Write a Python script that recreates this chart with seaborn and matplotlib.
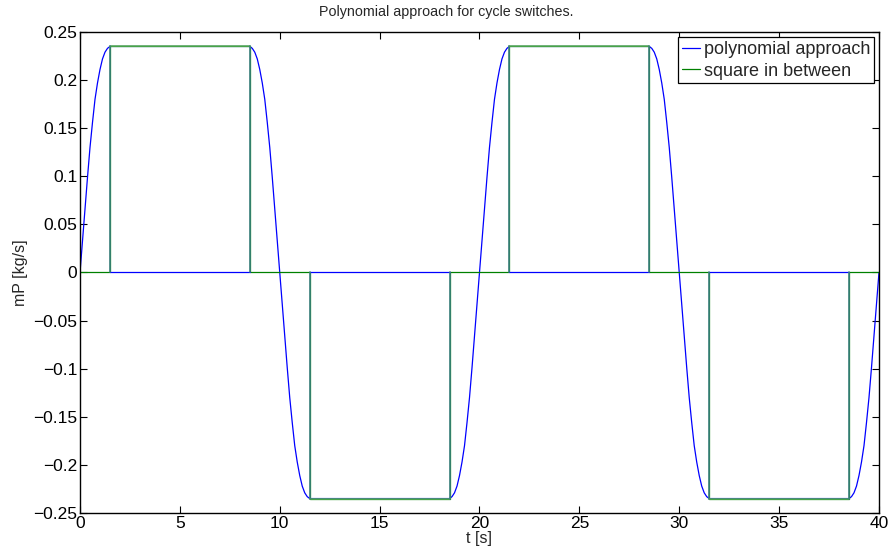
import numpy as np
import pandas as pd
import matplotlib
matplotlib.use("Agg")
import matplotlib.pyplot as plt
import seaborn as sns

# Switch instants and direction of each switch (+1 up, -1 down)
SWITCH_T = [0.0, 10.0, 20.0, 30.0, 40.0]
SWITCH_DIR = [1, -1, 1, -1, 1]

# Polynomial ramp: time after the switch centre [s] and mass flow [kg/s]
RAMP_DT = [0.0, 0.125, 0.25, 0.375, 0.5, 0.625, 0.75, 0.875, 1.0, 1.125, 1.25, 1.375, 1.5]
RAMP_MP = [0.0, 0.033, 0.066, 0.099, 0.130, 0.156, 0.180, 0.197, 0.211, 0.222, 0.229, 0.233, 0.235]

# Square signal in between the ramps
SQUARE_T = [0.0, 1.5, 8.5, 11.5, 18.5, 21.5, 28.5, 31.5, 38.5, 40.0]
SQUARE_MP = [0.0, 0.235, 0.0, -0.235, 0.0, 0.235, 0.0, -0.235, 0.0, 0.0]

X_TICKS = [0, 5, 10, 15, 20, 25, 30, 35, 40]
Y_TICKS = [0.25, 0.2, 0.15, 0.1, 0.05, 0, -0.05, -0.1, -0.15, -0.2, -0.25]
Y_TICK_LABELS = ["0.25", "0.2", "0.15", "0.1", "0.05", "0",
                 "\u22120.05", "\u22120.1", "\u22120.15", "\u22120.2", "\u22120.25"]

# Assemble the polynomial curve around every switch
t_poly, mp_poly = [], []
dt = np.array(RAMP_DT)
mp = np.array(RAMP_MP)
for i, (tc, sgn) in enumerate(zip(SWITCH_T, SWITCH_DIR)):
    if i > 0:  # ramp leading into the switch
        t_poly.extend((tc - dt[::-1]).tolist())
        mp_poly.extend((-sgn * mp[::-1]).tolist())
    if i < len(SWITCH_T) - 1:  # ramp leaving the switch
        start = 1 if i > 0 else 0
        t_poly.extend((tc + dt[start:]).tolist())
        mp_poly.extend((sgn * mp[start:]).tolist())

poly_df = pd.DataFrame({"t": t_poly, "mP": mp_poly})
square_df = pd.DataFrame({"t": SQUARE_T, "mP": SQUARE_MP})

sns.set_theme(style="ticks")
plt.rcParams["font.family"] = ["Liberation Sans", "DejaVu Sans"]
plt.rcParams["axes.linewidth"] = 1.0

fig = plt.figure(figsize=(8.92, 5.5), dpi=100)
ax = fig.add_axes([0.0897, 0.0673, 0.8957, 0.8745])

BLUE = "#0000ff"
GREEN = "#008000"

sns.lineplot(data=poly_df, x="t", y="mP", ax=ax, color=BLUE, lw=0.9,
             sort=False, estimator=None, label="polynomial approach")
sns.lineplot(data=square_df, x="t", y="mP", ax=ax, color=GREEN, lw=0.9,
             sort=False, estimator=None, drawstyle="steps-post",
             label="square in between")

# Plateau windows of the square signal: zero base, edges and top
for a, b, v in zip(SQUARE_T[:-1], SQUARE_T[1:], SQUARE_MP[:-1]):
    if v != 0:
        ax.plot([a, b], [0, 0], color=BLUE, lw=0.9, zorder=4)
        ax.plot([a, b], [v, v], color="#5fae5f", lw=1.1, zorder=4)
        ax.plot([a, a], [0, v], color="#3d8080", lw=1.2, zorder=4)
        ax.plot([b, b], [0, v], color="#3d8080", lw=1.2, zorder=4)

ax.set_xlim(0, 40)
ax.set_ylim(-0.25, 0.25)
ax.set_xticks(X_TICKS)
ax.set_xticklabels([str(x) for x in X_TICKS])
ax.set_yticks(Y_TICKS)
ax.set_yticklabels(Y_TICK_LABELS)
ax.tick_params(direction="in", length=5, width=0.8, top=True, right=True,
               labelsize=12.5, pad=2, colors="black")
for s in ax.spines.values():
    s.set_visible(True)
    s.set_color("black")

ax.set_xlabel("t [s]", fontsize=11.5, labelpad=0)
ax.set_ylabel("mP [kg/s]", fontsize=11.5, labelpad=4)
fig.suptitle("Polynomial approach for cycle switches.", fontsize=10.3,
             x=0.5, y=0.978, va="center")

leg = ax.legend(loc="upper right", fontsize=13, frameon=True, fancybox=False,
                framealpha=1, edgecolor="black", borderaxespad=0.3,
                handlelength=1.0, handletextpad=0.2, labelspacing=0.25,
                borderpad=0.2)
leg.get_frame().set_linewidth(0.9)

fig.savefig("out.png", dpi=100)
